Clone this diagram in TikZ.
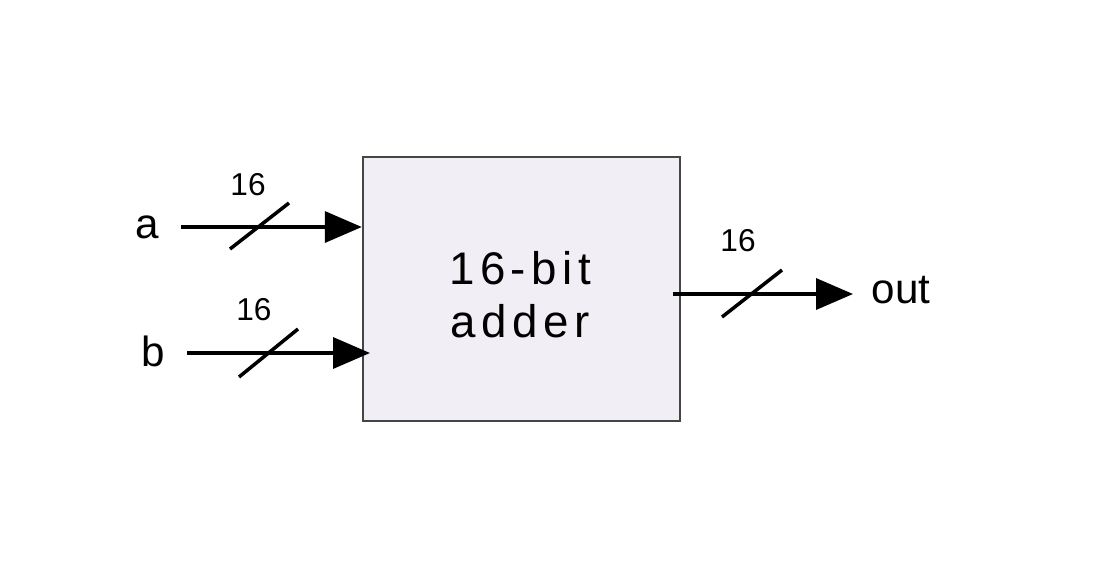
\documentclass[tikz,border=0pt]{standalone}
\usepackage{fontspec}
\setmainfont{Liberation Sans}
\usetikzlibrary{arrows.meta}
\definecolor{boxfill}{HTML}{F1EEF6}
\definecolor{boxline}{HTML}{454545}

\begin{document}
\begin{tikzpicture}[line cap=butt,line join=miter,x=0.02cm,y=-0.02cm,
    >={Triangle[length=0.74cm,width=0.62cm]},
    wire/.style={->,line width=2pt},
    busmark/.style={line width=2pt},
    port/.style={inner sep=0pt,font=\fontsize{24}{28}\selectfont},
    width/.style={inner sep=0pt,font=\fontsize{18}{21}\selectfont}]
            \useasboundingbox (0,0) rectangle (1094,582);
            % adder block
            \node [draw=boxline,fill=boxfill,line width=1.4pt,minimum width=6.34cm,minimum height=5.28cm,inner sep=0pt] (adder) at (521.5,289) {};
            \node [align=center,font=\fontsize{26}{30}\selectfont\addfontfeature{LetterSpace=12}] (addtxt) at (520,295) {16-bit\\adder};
            % ports
            \node [port] (a) at (147,227) {a};
            \node [port] (b) at (153,351) {b};
            \node [port,font=\fontsize{24}{28}\selectfont] (out) at (901,290) {out};
            \coordinate (ain) at (181,227);
            \coordinate (bin) at (187,353);
            \coordinate (oin) at (673,294);
            \coordinate (bend) at (370,353);
            \coordinate (oend) at (853,294);
            \draw [wire] (ain) -- (adder.west |- ain);
            \draw [wire] (bin) -- (bend);
            \draw [wire] (oin) -- (oend);
            % bus width marks
            \draw [busmark] (230,249) -- (289,203);
            \draw [busmark] (239,377) -- (298,329);
            \draw [busmark] (722,317) -- (782,270);
            \node [width] (wa) at (248,185) {16};
            \node [width] (wb) at (254,310) {16};
            \node [width] (wo) at (738,241) {16};
        \end{tikzpicture}
\end{document}
